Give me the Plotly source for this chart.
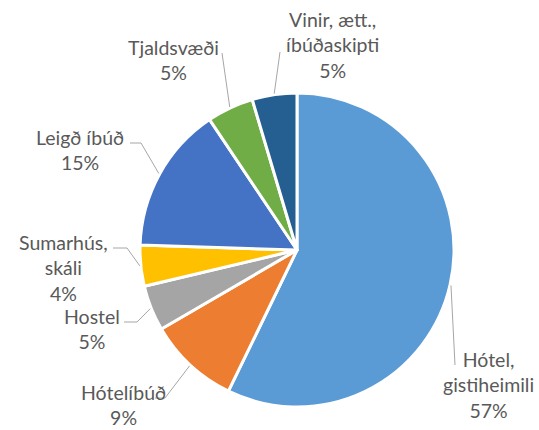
import math
import plotly.graph_objects as go

# ---- data ----
labels = ["Hótel, gistiheimili", "Hótelíbúð", "Hostel", "Sumarhús, skáli",
          "Leigð íbúð", "Tjaldsvæði", "Vinir, ætt., íbúðaskipti"]
label_lines = ["Hótel,<br>gistiheimili", "Hótelíbúð", "Hostel", "Sumarhús,<br>skáli",
               "Leigð íbúð", "Tjaldsvæði", "Vinir, ætt.,<br>íbúðaskipti"]
values = [57.2, 9.4, 4.7, 4.2, 15.1, 4.8, 4.6]
colors = ["#5B9BD5", "#ED7D31", "#A5A5A5", "#FFC000", "#4472C4", "#70AD47", "#255E91"]

# ---- layout (pixels) ----
W, H = 539, 430
CX, CY, R = 297, 250, 157
# text centre, elbow, line end for each label
label_pos = [(488, 385), (123, 405), (92, 329), (63, 268), (80, 150), (173, 60), (332, 45)]
elbows = [(455, 365), (165, 398), (137, 322), (127, 248), (141, 143), (222, 53), (280, 52)]
ends = [(455, 365), (155, 398), (124, 322), (113, 248), (130, 143), (222, 53), (280, 52)]


def px(x):
    return x / W


def py(y):
    return 1 - y / H


fig = go.Figure(go.Pie(
    labels=labels, values=values, sort=False, direction="clockwise", rotation=0,
    marker=dict(colors=colors, line=dict(color="white", width=3)),
    textinfo="none", hoverinfo="label+percent", showlegend=False,
    domain=dict(x=[px(CX - R), px(CX + R)], y=[py(CY + R), py(CY - R)]),
))

total = sum(values)
cum = 0
shapes = []
annotations = []
for i, v in enumerate(values):
    mid = (cum + v / 2) / total * 2 * math.pi
    cum += v
    sx = CX + (R + 1) * math.sin(mid)
    sy = CY - (R + 1) * math.cos(mid)
    ex, ey = elbows[i]
    hx, hy = ends[i]
    path = f"M {px(sx)},{py(sy)} L {px(ex)},{py(ey)} L {px(hx)},{py(hy)}"
    shapes.append(dict(type="path", path=path, xref="paper", yref="paper",
                       line=dict(color="#A6A6A6", width=1)))
    pct = round(v / total * 100)
    tx, ty = label_pos[i]
    annotations.append(dict(text=f"{label_lines[i]}<br>{pct}%", x=px(tx), y=py(ty),
                            xref="paper", yref="paper", showarrow=False,
                            xanchor="center", yanchor="middle", align="center",
                            font=dict(family="Lato", size=19.5, color="#595959")))

fig.update_layout(width=W, height=H, margin=dict(l=0, r=0, t=0, b=0),
                  paper_bgcolor="white", plot_bgcolor="white",
                  shapes=shapes, annotations=annotations)
fig.write_html("out.html", config={"displayModeBar": False},
               post_script="document.body.style.margin='0';")
